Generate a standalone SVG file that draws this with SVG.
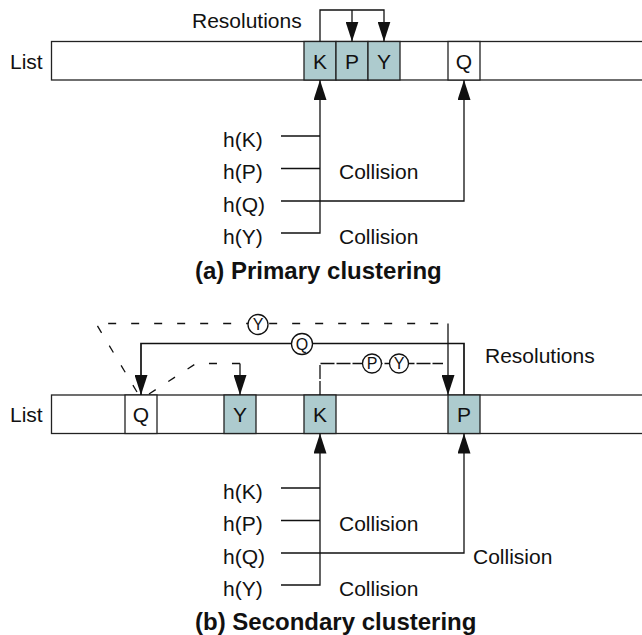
<svg xmlns="http://www.w3.org/2000/svg" width="642" height="635" viewBox="0 0 642 635">
<style>
text{font-family:"Liberation Sans",Arial,Helvetica,sans-serif;fill:#111}
.lbl{font-size:21px}
.cell{font-size:21px;text-anchor:middle}
.cap{font-size:24px;font-weight:bold}
.circ{font-size:16px;text-anchor:middle}
.box{fill:#fff;stroke:#222;stroke-width:1.3}
.hl{fill:#adcbce;stroke:#222;stroke-width:1.3}
.ln{fill:none;stroke:#111;stroke-width:1.3}
.lnb{fill:none;stroke:#111;stroke-width:1.7}
.dash{fill:none;stroke:#111;stroke-width:1.3;stroke-dasharray:8 15}
.ldash{fill:none;stroke:#111;stroke-width:1.3;stroke-dasharray:14 2}
.cc{fill:#fff;stroke:#111;stroke-width:1.3}
</style>
<defs>
<marker id="arr" viewBox="0 -6.5 20 13" refX="20" refY="0" markerWidth="20" markerHeight="13" markerUnits="userSpaceOnUse" orient="auto">
<path d="M0,-6.5 L20,0 L0,6.5 z" fill="#111"/>
</marker>
</defs>

<!-- (a) Primary clustering -->
<g id="a-list">
<text class="lbl" x="10" y="69">List</text>
<rect class="box" x="51.5" y="41.5" width="600" height="38.5"/>
</g>
<g id="a-K"><rect class="hl" x="304" y="41.5" width="32" height="38.5"/><text class="cell" x="320" y="68.5">K</text></g>
<g id="a-P"><rect class="hl" x="336" y="41.5" width="32" height="38.5"/><text class="cell" x="352" y="68.5">P</text></g>
<g id="a-Y"><rect class="hl" x="368" y="41.5" width="32" height="38.5"/><text class="cell" x="384" y="68.5">Y</text></g>
<g id="a-Q"><rect class="box" x="448" y="41.5" width="32" height="38.5"/><text class="cell" x="464" y="68.5">Q</text></g>
<g id="a-labels">
<text class="lbl" x="192" y="28">Resolutions</text>
<text class="lbl" x="223" y="146.5">h(K)</text>
<text class="lbl" x="223" y="179">h(P)</text>
<text class="lbl" x="223" y="211.5">h(Q)</text>
<text class="lbl" x="223" y="243.5">h(Y)</text>
<text class="lbl" x="339" y="179">Collision</text>
<text class="lbl" x="339" y="243.5">Collision</text>
<text class="cap" x="195" y="279">(a) Primary clustering</text>
</g>
<g id="a-connectors">
<path class="ln" d="M320,41.5 V10 H384 V41.5" marker-end="url(#arr)"/>
<path class="ln" d="M352,10 V41.5" marker-end="url(#arr)"/>
<path class="ln" d="M281,136 H320"/>
<path class="ln" d="M281,168.5 H320"/>
<path class="ln" d="M281,233 H320 V80" marker-end="url(#arr)"/>
<path class="ln" d="M281,201 H464 V80" marker-end="url(#arr)"/>
</g>

<!-- (b) Secondary clustering -->
<g id="b-list">
<text class="lbl" x="10" y="422">List</text>
<rect class="box" x="51.5" y="395" width="600" height="38.5"/>
</g>
<g id="b-Q"><rect class="box" x="125" y="395" width="32" height="38.5"/><text class="cell" x="141" y="422">Q</text></g>
<g id="b-Y"><rect class="hl" x="224" y="395" width="32" height="38.5"/><text class="cell" x="240" y="422">Y</text></g>
<g id="b-K"><rect class="hl" x="304" y="395" width="32" height="38.5"/><text class="cell" x="320" y="422">K</text></g>
<g id="b-P"><rect class="hl" x="448" y="395" width="32" height="38.5"/><text class="cell" x="464" y="422">P</text></g>
<g id="b-labels">
<text class="lbl" x="485" y="363">Resolutions</text>
<text class="lbl" x="223" y="498.5">h(K)</text>
<text class="lbl" x="223" y="531">h(P)</text>
<text class="lbl" x="223" y="563.5">h(Q)</text>
<text class="lbl" x="223" y="595.5">h(Y)</text>
<text class="lbl" x="339" y="531">Collision</text>
<text class="lbl" x="473" y="563.5">Collision</text>
<text class="lbl" x="339" y="595.5">Collision</text>
<text class="cap" x="195" y="630">(b) Secondary clustering</text>
</g>
<g id="b-connectors">
<path class="ln" d="M281,488 H320"/>
<path class="ln" d="M281,520.5 H320"/>
<path class="ln" d="M281,585 H320 V433.5" marker-end="url(#arr)"/>
<path class="ln" d="M281,553 H464 V433.5" marker-end="url(#arr)"/>
<path class="dash" d="M137,392 L96,323.5 H448"/>
<path class="ln" d="M448,323.5 V395" marker-end="url(#arr)"/>
<path class="lnb" d="M464,395 V343.5 H141 V395" marker-end="url(#arr)"/>
<path class="ldash" d="M320,395 V363.5 H443"/>
<path class="dash" d="M149,394 L196,363.5 H240"/>
<path class="ln" d="M240,363.5 V395" marker-end="url(#arr)"/>
</g>
<g id="b-tags">
<circle class="cc" cx="258" cy="324.5" r="10"/><text class="circ" x="258" y="330.3">Y</text>
<circle class="cc" cx="302" cy="344" r="10.5"/><text class="circ" x="302" y="349.8">Q</text>
<circle class="cc" cx="372" cy="363.5" r="9.5"/><text class="circ" x="372" y="369.3">P</text>
<circle class="cc" cx="399" cy="363.5" r="9.5"/><text class="circ" x="399" y="369.3">Y</text>
</g>
</svg>
